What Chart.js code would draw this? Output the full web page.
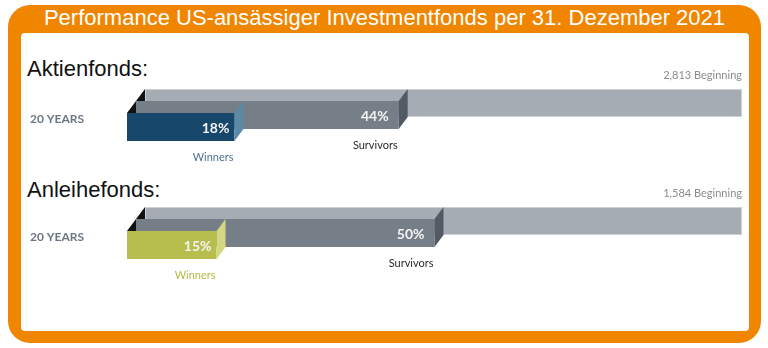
<!DOCTYPE html>
<html><head><meta charset="utf-8">
<script src="https://cdn.jsdelivr.net/npm/chart.js@4"></script>
<style>
html,body{margin:0;padding:0;background:#fff;width:768px;height:348px;overflow:hidden}
#frame{position:absolute;left:8px;top:5px;width:753px;height:338px;background:#f08500;border-radius:22px}
#inner{position:absolute;left:21px;top:33px;width:728px;height:298px;background:#fff;border-radius:4px}
#title{position:absolute;left:8px;top:5px;width:753px;height:28px;line-height:28px;text-align:center;color:#fff;font:22px "Liberation Sans",Arial,sans-serif;white-space:nowrap}
.head{position:absolute;left:27px;font:22px/22px "Liberation Sans",Arial,sans-serif;color:#111;white-space:nowrap}
canvas{position:absolute;left:0;top:0}
</style></head><body>
<div id="frame"></div><div id="inner"></div>
<div id="title">Performance US-ansässiger Investmentfonds per 31. Dezember 2021</div>
<div class="head" style="top:58px">Aktienfonds:</div>
<div class="head" style="top:179px">Anleihefonds:</div>
<canvas id="c" width="768" height="348"></canvas>
<script>
const funds = ['Aktienfonds', 'Anleihefonds'];
const horizons = ['20 YEARS', '20 YEARS'];
const seriesNames = ['Beginning', 'Survivors', 'Winners'];
const beginningCounts = [2813, 1584];
const beginningPct = [100, 100];
const survivorsPct = [44, 50];
const winnersPct = [18, 15];

const frontColors = [['#a6acb3', '#a6acb3'], ['#767f88', '#767f88'], ['#17476a', '#b8be4d']];
const sideColors = [null, ['#525b63', '#525b63'], ['#5b8aa6', '#d3d880']];
const nameColors = [['#8c8c8c', '#8c8c8c'], ['#2a2a2a', '#2a2a2a'], ['#4e6f8c', '#b3bb44']];
const STEP = 9;
const LABEL_FONT = 'Lato, "Open Sans", sans-serif';

function rectOf(chart, k, i) {
  const el = chart.getDatasetMeta(k).data[i];
  const p = el.getProps(['x', 'y', 'base', 'height'], true);
  const dx = -STEP * k;
  return {L: p.base + dx, R: p.x + dx, T: p.y - p.height / 2, B: p.y + p.height / 2, y: p.y};
}

const bars3d = {
  id: 'bars3d',
  beforeDatasetsDraw(chart) {
    const ctx = chart.ctx;
    ctx.save();
    for (let k = 0; k < chart.data.datasets.length; k++) {
      const meta = chart.getDatasetMeta(k);
      meta.data.forEach((el, i) => {
        const r = rectOf(chart, k, i);
        ctx.fillStyle = frontColors[k][i];
        ctx.fillRect(r.L, r.T, r.R - r.L, r.B - r.T);
        if (k === 0) {
          ctx.strokeStyle = '#cdd1d5';
          ctx.lineWidth = 1;
          ctx.strokeRect(r.L + 0.5, r.T + 0.5, r.R - r.L - 1, r.B - r.T - 1);
        } else {
          const prev = rectOf(chart, k - 1, i);
          const dy = r.y - prev.y;
          ctx.fillStyle = sideColors[k][i];
          ctx.beginPath();
          ctx.moveTo(r.R, r.T);
          ctx.lineTo(r.R + STEP, r.T - dy);
          ctx.lineTo(r.R + STEP, r.B - dy);
          ctx.lineTo(r.R, r.B);
          ctx.closePath();
          ctx.fill();
          ctx.fillStyle = '#111';
          ctx.beginPath();
          ctx.moveTo(r.L + STEP, r.T - dy);
          ctx.lineTo(r.L, r.T);
          ctx.lineTo(r.L + STEP, r.T);
          ctx.closePath();
          ctx.fill();
        }
      });
    }
    ctx.restore();
    return false;
  },
  afterDraw(chart) {
    const ctx = chart.ctx;
    ctx.save();
    ctx.textBaseline = 'middle';
    for (let k = 0; k < chart.data.datasets.length; k++) {
      const ds = chart.data.datasets[k];
      chart.getDatasetMeta(k).data.forEach((el, i) => {
        const r = rectOf(chart, k, i);
        ctx.textAlign = 'right';
        if (k === 0) {
          ctx.font = '11px ' + LABEL_FONT;
          ctx.fillStyle = nameColors[k][i];
          ctx.fillText(beginningCounts[i].toLocaleString('en-US') + ' ' + ds.label, r.R, r.T - 14);
        } else {
          ctx.font = 'bold 14px ' + LABEL_FONT;
          ctx.fillStyle = '#f4f4f4';
          ctx.fillText(ds.data[i] + '%', r.R - (k === 1 ? 10 : 5), r.y + 1);
          ctx.font = '11px ' + LABEL_FONT;
          ctx.fillStyle = nameColors[k][i];
          ctx.fillText(ds.label, r.R - 1, r.B + 16);
        }
      });
    }
    ctx.restore();
  }
};

new Chart(document.getElementById('c'), {
  type: 'bar',
  data: {
    labels: funds,
    datasets: [
      {label: seriesNames[0], data: beginningPct},
      {label: seriesNames[1], data: survivorsPct},
      {label: seriesNames[2], data: winnersPct}
    ]
  },
  options: {
    indexAxis: 'y',
    responsive: false,
    animation: false,
    devicePixelRatio: 1,
    datasets: {bar: {categoryPercentage: 36 / 118, barPercentage: 28 / 12}},
    layout: {padding: {left: 30, right: 26, top: 56, bottom: 56}},
    plugins: {legend: {display: false}, tooltip: {enabled: false}, title: {display: false}},
    scales: {
      x: {min: 0, max: 100, display: false},
      y: {
        grid: {display: false},
        border: {display: false},
        ticks: {
          callback: (v, i) => horizons[i],
          crossAlign: 'far',
          labelOffset: 4,
          padding: 0,
          color: '#6c7784',
          font: {family: LABEL_FONT, size: 12, weight: 'bold'}
        },
        afterFit: s => { s.width = 115; }
      }
    }
  },
  plugins: [bars3d]
});
</script>
</body></html>
